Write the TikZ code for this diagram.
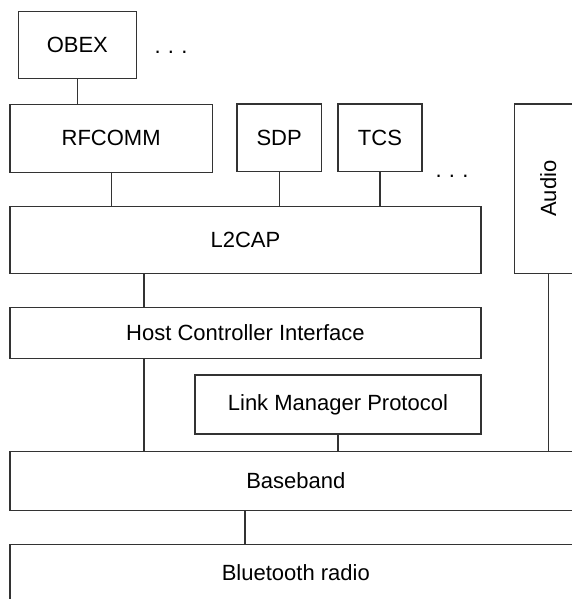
\documentclass[tikz,border=0pt]{standalone}
\usepackage{fontspec}
\setmainfont{Liberation Sans}
\begin{document}
\begin{tikzpicture}[x=1pt,y=-1pt,
  layer/.style={draw=black!80, line width=1.3pt, anchor=north west, inner sep=0pt, font=\fontsize{22}{26}\selectfont},
  link/.style={draw=black!80, line width=1.3pt},
  dots/.style={font=\fontsize{22}{26}\selectfont, anchor=base}]
\useasboundingbox (0,0) rectangle (572,599);
\clip (0,0) rectangle (572,599);
\node[layer, minimum width=118pt, minimum height=67.3pt] (obex) at (17.7,10.7) {OBEX};
\node[layer, minimum width=202.4pt, minimum height=67.5pt] (rfcomm) at (9.3,104) {RFCOMM};
\node[layer, minimum width=84.4pt, minimum height=67.7pt] (sdp) at (236.3,103.3) {SDP};
\node[layer, minimum width=84pt, minimum height=67.7pt] (tcs) at (337.3,103.3) {TCS};
\node[layer, minimum width=67pt, minimum height=169.4pt] (audio) at (514,103.3) {};
\node[font=\fontsize{22}{26}\selectfont, rotate=90] (audiotext) at (audio.center) {Audio};
\node[layer, minimum width=471pt, minimum height=67pt] (l2cap) at (9.3,205.7) {L2CAP};
\node[layer, minimum width=471pt, minimum height=51pt] (hci) at (9.3,306.7) {Host Controller Interface};
\node[layer, minimum width=286pt, minimum height=59pt] (lmp) at (194.3,374.3) {Link Manager Protocol};
\node[layer, minimum width=571.7pt, minimum height=59.3pt] (baseband) at (9.3,450.7) {Baseband};
\node[layer, minimum width=571.7pt, minimum height=55.4pt] (radio) at (9.3,544) {Bluetooth radio};
\node[dots] (dots1) at (171,54) {.\,\,.\,\,.};
\node[dots] (dots2) at (452,177) {.\,\,.\,\,.};
\coordinate (hx) at (144,0);
\coordinate (rx) at (245,0);
\draw[link] (obex.south) -- (rfcomm.north -| obex.south);
\draw[link] (rfcomm.south) -- (l2cap.north -| rfcomm.south);
\draw[link] (sdp.south) -- (l2cap.north -| sdp.south);
\draw[link] (tcs.south) -- (l2cap.north -| tcs.south);
\draw[link] (l2cap.south -| hx) -- (hci.north -| hx);
\draw[link] (hci.south -| hx) -- (baseband.north -| hx);
\draw[link] (lmp.south) -- (baseband.north -| lmp.south);
\draw[link] (audio.south) -- (baseband.north -| audio.south);
\draw[link] (baseband.south -| rx) -- (radio.north -| rx);
\end{tikzpicture}
\end{document}
